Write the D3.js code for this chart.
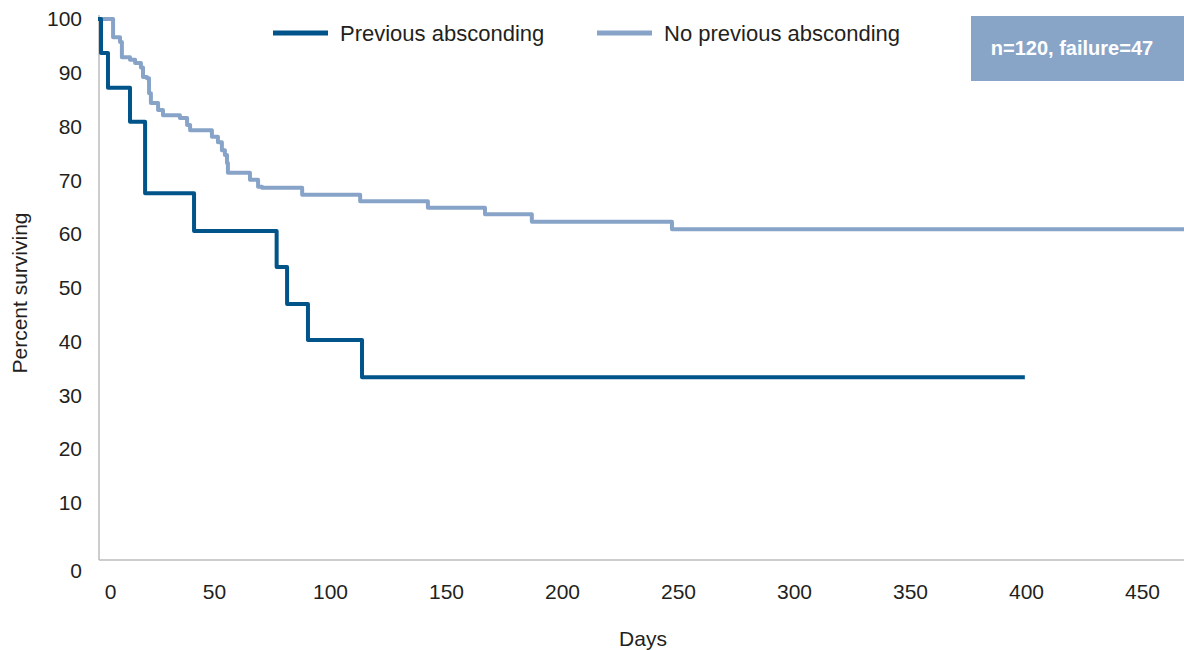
<!DOCTYPE html>
<html>
<head>
<meta charset="utf-8">
<script src="https://cdn.jsdelivr.net/npm/d3@7"></script>
<style>
  body { margin: 0; background: #fff; }
  svg { display: block; font-family: "Liberation Sans", Arial, sans-serif; }
</style>
</head>
<body>
<svg id="chart" width="1184" height="650"></svg>
<script>
// Kaplan-Meier style survival curves (days, percent surviving)
var prevDays = [0, 1.3, 4.3, 13.8, 20.3, 41.4, 77, 81.5, 90.5, 113.8, 399.5];
var prevPct  = [100, 93.7, 87.2, 80.9, 67.6, 60.6, 53.9, 47.0, 40.3, 33.4, 33.4];

var noPrevDays = [0, 6.5, 9.5, 10.3, 13.8, 16, 18.5, 19.4, 21.1, 22, 22.8, 25.9, 28, 35.3, 38.4, 39.7,
                  49.1, 51.7, 53.4, 54.7, 55.6, 56, 65.5, 69, 70.7, 88, 113, 142.2, 166.8, 187, 247.4, 469];
var noPrevPct  = [100, 96.6, 95.7, 92.9, 92.4, 91.8, 91.0, 89.2, 89.0, 86.2, 84.4, 83.1, 82.1, 81.6, 80.3, 79.3,
                  78.1, 77.1, 75.6, 74.7, 73.2, 71.4, 70.1, 68.8, 68.6, 67.3, 66.1, 64.9, 63.7, 62.3, 60.9, 60.9];

var seriesNames = ["Previous absconding", "No previous absconding"];
var seriesColors = ["#00548a", "#87a4c8"];
var xTicks = [0, 50, 100, 150, 200, 250, 300, 350, 400, 450];
var yTicks = [0, 10, 20, 30, 40, 50, 60, 70, 80, 90, 100];
var noteText = "n=120, failure=47";

var svg = d3.select("#chart");

var x = d3.scaleLinear().domain([0, 470]).range([98, 98 + 470 * 2.32]);
var y = d3.scaleLinear().domain([-0.6, 100]).range([560, 19]);

// axes
var yAxis = svg.append("g")
  .attr("transform", "translate(99,0)")
  .call(d3.axisLeft(y).tickValues(yTicks).tickSize(0).tickPadding(17));
yAxis.select(".domain").attr("stroke", "#bdbdbd").attr("stroke-width", 1.5)
  .attr("d", "M0,15V560");
yAxis.selectAll("text").attr("font-size", 21).attr("fill", "#231f20")
  .attr("font-family", "Liberation Sans, Arial, sans-serif");
yAxis.selectAll(".tick").filter(function(d) { return d === 0; })
  .select("text").attr("dy", "0.32em").attr("y", 14);

var xAxis = svg.append("g")
  .attr("transform", "translate(0,560)")
  .call(d3.axisBottom(x).tickValues(xTicks).tickSize(0).tickPadding(24));
xAxis.select(".domain").attr("stroke", "#bdbdbd").attr("stroke-width", 1.5)
  .attr("d", "M99,0H1184");
xAxis.selectAll("text").attr("font-size", 21).attr("fill", "#231f20")
  .attr("font-family", "Liberation Sans, Arial, sans-serif");
xAxis.selectAll(".tick").filter(function(d) { return d === 0; })
  .select("text").attr("x", 12);

// axis titles
svg.append("text")
  .attr("x", 643).attr("y", 646)
  .attr("text-anchor", "middle")
  .attr("font-size", 21).attr("fill", "#231f20")
  .text("Days");

svg.append("text")
  .attr("transform", "translate(27,293) rotate(-90)")
  .attr("text-anchor", "middle")
  .attr("font-size", 21).attr("fill", "#231f20")
  .text("Percent surviving");

// lines
var line = d3.line()
  .x(function(d) { return x(d[0]); })
  .y(function(d) { return y(d[1]); })
  .curve(d3.curveStepAfter);

var noPrev = noPrevDays.map(function(d, i) { return [d, noPrevPct[i]]; });
var prev = prevDays.map(function(d, i) { return [d, prevPct[i]]; });

svg.append("path")
  .attr("d", line(noPrev))
  .attr("fill", "none")
  .attr("stroke", seriesColors[1])
  .attr("stroke-width", 4)
  .attr("stroke-linejoin", "round");

svg.append("path")
  .attr("d", line(prev))
  .attr("fill", "none")
  .attr("stroke", seriesColors[0])
  .attr("stroke-width", 4)
  .attr("stroke-linejoin", "round");

// legend
var legendX = [273, 597];
seriesNames.forEach(function(name, i) {
  svg.append("line")
    .attr("x1", legendX[i]).attr("x2", legendX[i] + 55)
    .attr("y1", 33).attr("y2", 33)
    .attr("stroke", seriesColors[i]).attr("stroke-width", 5);
  svg.append("text")
    .attr("x", legendX[i] + 67).attr("y", 41)
    .attr("font-size", 22).attr("fill", "#231f20")
    .text(name);
});

// annotation box
svg.append("rect")
  .attr("x", 971).attr("y", 16)
  .attr("width", 213).attr("height", 65)
  .attr("fill", "#88a5c8");
svg.append("text")
  .attr("x", 1072).attr("y", 55)
  .attr("text-anchor", "middle")
  .attr("font-size", 20).attr("font-weight", "bold")
  .attr("fill", "#fff")
  .text(noteText);
</script>
</body>
</html>
